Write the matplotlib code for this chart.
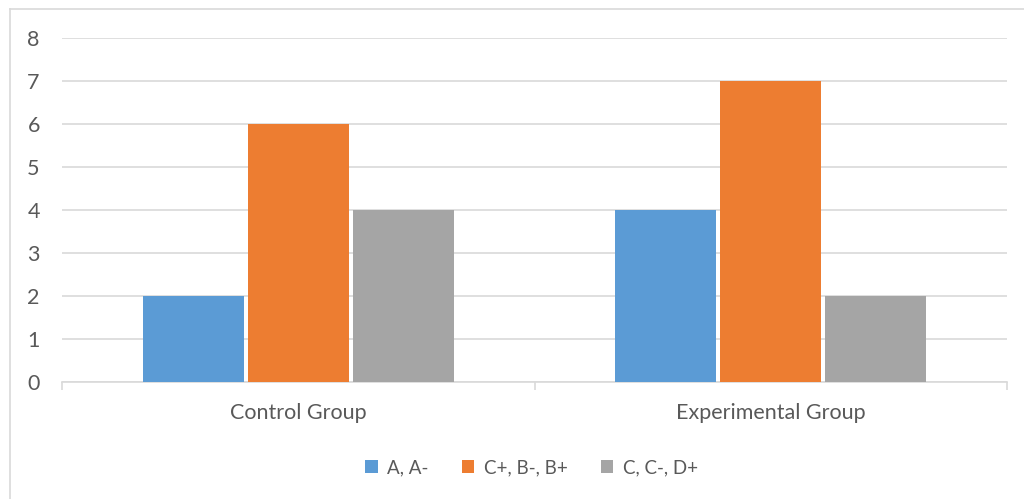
import matplotlib.pyplot as plt
import numpy as np

categories = ["Control Group", "Experimental Group"]
series = ["A, A-", "C+, B-, B+", "C, C-, D+"]
a_vals = [2, 4]
c_vals = [6, 7]
d_vals = [4, 2]
colors = ["#5B9BD5", "#ED7D31", "#A5A5A5"]

plt.rcParams['font.family'] = ['Lato', 'DejaVu Sans']
txt = "#595959"

fig = plt.figure(figsize=(10.24, 4.99), dpi=100)
W, H = 1024, 499
ax = fig.add_axes([62 / W, (H - 382) / H, (1007 - 62) / W, (382 - 38) / H])

# outer chart border (top and left visible in the reference)
fig.add_artist(plt.Line2D([10 / W, 10 / W], [0, (H - 9) / H], color="#D9D9D9", lw=1.2))
fig.add_artist(plt.Line2D([10 / W, 1 ], [(H - 9) / H, (H - 9) / H], color="#D9D9D9", lw=1.2))

x = np.arange(len(categories))
w = 0.2135
gap = 0.0085
for i, (vals, name) in enumerate(zip([a_vals, c_vals, d_vals], series)):
    ax.bar(x + (i - 1) * (w + gap), vals, width=w, color=colors[i], label=name, zorder=3)

ax.set_xlim(-0.5, 1.5)
ax.set_ylim(0, 8)
ax.set_yticks(range(0, 9))
ax.yaxis.grid(True, color="#D9D9D9", lw=1.2, zorder=0)
for s in ["top", "right", "left"]:
    ax.spines[s].set_visible(False)
ax.spines["bottom"].set_color("#D9D9D9")
ax.spines["bottom"].set_linewidth(1.2)
ax.set_xticks(x)
ax.set_xticklabels(categories)
ax.set_xticks([-0.5, 0.5, 1.5], minor=True)
ax.tick_params(axis="x", which="major", length=0, labelsize=15.5, labelcolor=txt, pad=15)
ax.tick_params(axis="x", which="minor", length=6, color="#D9D9D9", width=1.2)
ax.tick_params(axis="y", length=0, labelsize=15.5, labelcolor=txt, pad=16)

ax.legend(loc="upper center", bbox_to_anchor=(0.497, -0.175), ncol=3, frameon=False,
          fontsize=13.5, labelcolor=txt, handlelength=0.65, handleheight=0.65,
          handletextpad=0.5, columnspacing=1.8)

fig.savefig("out.png", dpi=100)
